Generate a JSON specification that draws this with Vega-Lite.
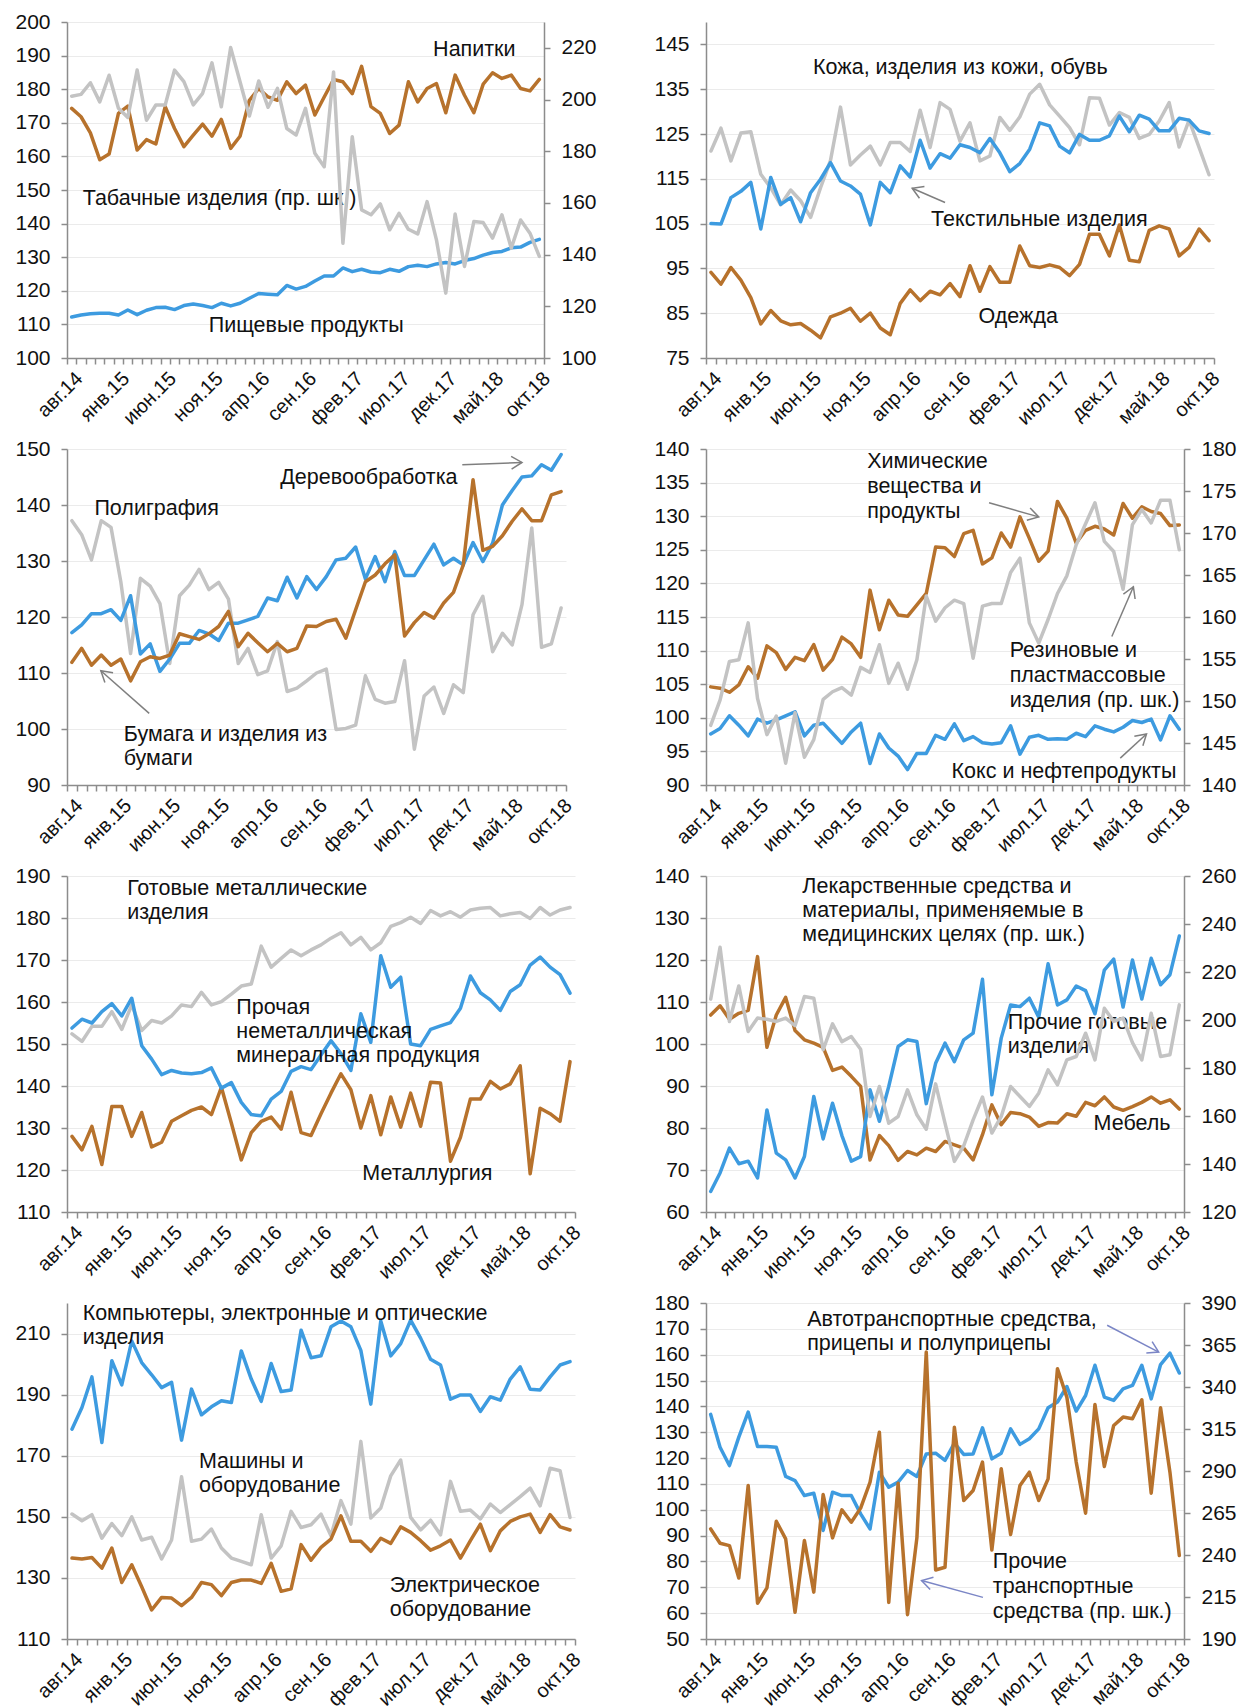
{
"$schema":"https://vega.github.io/schema/vega-lite/v6.json",
"background":"white",
"padding":{"left":14,"top":11,"right":0,"bottom":0},
"data":{"values":[
{"i":0,"m":"авг.14","food":112.2,"bev":174.3,"tob":201.3,"tex":105,"clo":94.1,"lea":121.2,"wood":117.2,"paper":111.9,"print":137.2,"chem":104.6,"coke":97.6,"rub":147.1,"metal":152.4,"nonmet":153.8,"met":128,"pharm":208.7,"othf":64.9,"furn":106.9,"comp":178.7,"mach":150.9,"elec":136.5,"auto":136.9,"othtr":255.5},
{"i":1,"m":"сен.14","food":112.8,"bev":171.8,"tob":202,"tex":104.9,"clo":91.5,"lea":126.3,"wood":118.6,"paper":114.4,"print":134.7,"chem":104.4,"coke":98.4,"rub":150.1,"metal":150.6,"nonmet":155.9,"met":124.8,"pharm":230.3,"othf":69.3,"furn":109.1,"comp":185.8,"mach":148.7,"elec":136.2,"auto":124.2,"othtr":247},
{"i":2,"m":"окт.14","food":113.2,"bev":167,"tob":206.5,"tex":110.8,"clo":95.2,"lea":119,"wood":120.6,"paper":111.4,"print":130.2,"chem":103.8,"coke":100.3,"rub":154.7,"metal":154.2,"nonmet":155,"met":130.4,"pharm":199.4,"othf":75.2,"furn":105.9,"comp":195.8,"mach":150.7,"elec":136.7,"auto":117.1,"othtr":245.6},
{"i":3,"m":"ноя.14","food":113.3,"bev":159,"tob":199.1,"tex":112.2,"clo":92.4,"lea":125.2,"wood":120.6,"paper":113.2,"print":137.2,"chem":104.9,"coke":98.9,"rub":154.9,"metal":154.2,"nonmet":157.7,"met":121.3,"pharm":214.2,"othf":71.5,"furn":107.3,"comp":174.3,"mach":143,"elec":133.2,"auto":128.1,"othtr":226.3},
{"i":4,"m":"дек.14","food":113.3,"bev":160.7,"tob":209.4,"tex":114.2,"clo":88.5,"lea":125.5,"wood":121.3,"paper":111.4,"print":136,"chem":107.6,"coke":97.3,"rub":159.3,"metal":157.7,"nonmet":159.6,"met":135.1,"pharm":195.2,"othf":72.1,"furn":108,"comp":201.1,"mach":147.8,"elec":139.8,"auto":137.8,"othtr":281.4},
{"i":5,"m":"янв.15","food":112.8,"bev":172.8,"tob":196.6,"tex":103.8,"clo":82.6,"lea":116,"wood":119.4,"paper":112.5,"print":126.3,"chem":105.9,"coke":99.8,"rub":150.3,"metal":153.5,"nonmet":156.7,"met":135.1,"pharm":200.8,"othf":68.1,"furn":120.8,"comp":193.2,"mach":143.8,"elec":128.5,"auto":124.5,"othtr":211.3},
{"i":6,"m":"фев.15","food":114.3,"bev":175,"tob":193.1,"tex":115.3,"clo":85.6,"lea":113,"wood":123.8,"paper":108.6,"print":113.5,"chem":110.7,"coke":99.2,"rub":146,"metal":159.3,"nonmet":160.9,"met":128,"pharm":200.3,"othf":84.3,"furn":99.2,"comp":207.6,"mach":150,"elec":134.3,"auto":124.5,"othtr":220.4},
{"i":7,"m":"мар.15","food":112.9,"bev":161.9,"tob":211.4,"tex":109.3,"clo":83.3,"lea":109.2,"wood":113.4,"paper":112,"print":126.9,"chem":109.7,"coke":99.7,"rub":148.2,"metal":153.2,"nonmet":149.6,"met":133.7,"pharm":199.4,"othf":74,"furn":106.9,"comp":200.5,"mach":142.4,"elec":127.1,"auto":124.2,"othtr":260.1},
{"i":8,"m":"апр.15","food":114.2,"bev":165,"tob":192,"tex":110.8,"clo":82.4,"lea":112.5,"wood":115.2,"paper":112.9,"print":125.5,"chem":107.2,"coke":100.3,"rub":142.6,"metal":155.6,"nonmet":146.4,"met":125.5,"pharm":200.8,"othf":72.4,"furn":111.1,"comp":196.5,"mach":143.3,"elec":119.5,"auto":112.9,"othtr":249.6},
{"i":9,"m":"май.15","food":115,"bev":163.7,"tob":197.9,"tex":105.4,"clo":82.7,"lea":110.1,"wood":110.3,"paper":112.6,"print":122.4,"chem":109,"coke":100.9,"rub":148.6,"metal":155,"nonmet":142.7,"met":126.6,"pharm":197.6,"othf":68.1,"furn":103.2,"comp":192.3,"mach":136.2,"elec":123.6,"auto":111.3,"othtr":205.9},
{"i":10,"m":"июн.15","food":115.1,"bev":174.8,"tob":197.9,"tex":111.9,"clo":81.2,"lea":106.4,"wood":112.5,"paper":113.2,"print":111.7,"chem":108.5,"coke":97.3,"rub":143.3,"metal":156.7,"nonmet":143.7,"met":131.6,"pharm":209.8,"othf":73.2,"furn":101,"comp":194,"mach":142.4,"elec":123.4,"auto":105.5,"othtr":248.6},
{"i":11,"m":"июл.15","food":114.4,"bev":168.3,"tob":211.4,"tex":114.9,"clo":79.5,"lea":113,"wood":115.3,"paper":117,"print":123.8,"chem":110.9,"coke":98.9,"rub":145.4,"metal":159.3,"nonmet":143.1,"met":132.9,"pharm":209.1,"othf":87.5,"furn":100.2,"comp":175.1,"mach":163.1,"elec":120.9,"auto":106.4,"othtr":217.9},
{"i":12,"m":"авг.15","food":115.6,"bev":162.9,"tob":206.9,"tex":118.6,"clo":84.2,"lea":119.1,"wood":115.3,"paper":116.5,"print":125.7,"chem":107.1,"coke":99.2,"rub":150.2,"metal":158.9,"nonmet":142.9,"met":134.2,"pharm":187.6,"othf":77.4,"furn":99.2,"comp":191.8,"mach":142,"elec":123.6,"auto":92,"othtr":276},
{"i":13,"m":"сен.15","food":116.1,"bev":166.3,"tob":197.9,"tex":114.5,"clo":85,"lea":131,"wood":117.6,"paper":116,"print":128.5,"chem":108.7,"coke":97.7,"rub":151.1,"metal":162.3,"nonmet":143.2,"met":135,"pharm":198.4,"othf":85.9,"furn":93.7,"comp":183.4,"mach":142.7,"elec":128.5,"auto":106.8,"othtr":250.2},
{"i":14,"m":"окт.15","food":115.6,"bev":169.6,"tob":202.4,"tex":113.4,"clo":86.1,"lea":118.1,"wood":117,"paper":117,"print":124.9,"chem":112,"coke":96.2,"rub":151.6,"metal":159.3,"nonmet":144.3,"met":133.2,"pharm":191,"othf":78.2,"furn":94.5,"comp":186,"mach":146,"elec":127.8,"auto":105.5,"othtr":266.9},
{"i":15,"m":"ноя.15","food":115,"bev":166,"tob":214.2,"tex":111.6,"clo":83.2,"lea":120.3,"wood":115.8,"paper":118.3,"print":126.2,"chem":111,"coke":97.9,"rub":150.7,"metal":160.1,"nonmet":139.5,"met":139.7,"pharm":193.1,"othf":72.1,"furn":92.3,"comp":188,"mach":139.8,"elec":124.2,"auto":105.5,"othtr":259.5},
{"i":16,"m":"дек.15","food":116.3,"bev":171,"tob":197.2,"tex":104.7,"clo":85,"lea":122.3,"wood":118.9,"paper":121,"print":123.2,"chem":109,"coke":99.2,"rub":154,"metal":161.9,"nonmet":140.8,"met":131.2,"pharm":187.8,"othf":73.2,"furn":89.9,"comp":187.4,"mach":136.5,"elec":128.5,"auto":98.4,"othtr":267.9},
{"i":17,"m":"янв.16","food":115.5,"bev":162.4,"tob":220.1,"tex":114.2,"clo":81.7,"lea":118.1,"wood":118.9,"paper":114.7,"print":111.7,"chem":119,"coke":93.2,"rub":153.4,"metal":163.8,"nonmet":136.1,"met":122.4,"pharm":159.8,"othf":89.1,"furn":72.4,"comp":204.3,"mach":135.4,"elec":129.3,"auto":92.6,"othtr":283.3},
{"i":18,"m":"фев.16","food":116.3,"bev":166,"tob":206.9,"tex":111.9,"clo":80.2,"lea":123.1,"wood":119.5,"paper":117.1,"print":114.4,"chem":113.1,"coke":97.6,"rub":156.7,"metal":164.3,"nonmet":133.2,"met":128.9,"pharm":172.3,"othf":81.6,"furn":78.2,"comp":195.1,"mach":134.3,"elec":129.3,"auto":114.5,"othtr":313.1},
{"i":19,"m":"мар.16","food":117.8,"bev":176.7,"tob":193.6,"tex":117.9,"clo":87.2,"lea":123.1,"wood":120.1,"paper":115.4,"print":109.7,"chem":117.5,"coke":95.5,"rub":152.1,"metal":173.3,"nonmet":132.9,"met":131.6,"pharm":157,"othf":89.9,"furn":75.8,"comp":187.8,"mach":150.7,"elec":128.2,"auto":108.7,"othtr":211.8},
{"i":20,"m":"апр.16","food":119.2,"bev":180.2,"tob":207.2,"tex":115.4,"clo":90.2,"lea":121.1,"wood":123.4,"paper":113.8,"print":110.4,"chem":115.3,"coke":94.3,"rub":154.5,"metal":168.3,"nonmet":136.9,"met":132.6,"pharm":159.8,"othf":99.4,"furn":72.3,"comp":200.2,"mach":136.5,"elec":134.8,"auto":110.7,"othtr":282.7},
{"i":21,"m":"май.16","food":119,"bev":177.7,"tob":197,"tex":123.6,"clo":87.8,"lea":130.3,"wood":122.9,"paper":115.3,"print":115.6,"chem":115.1,"coke":92.3,"rub":151.4,"metal":170.4,"nonmet":138.7,"met":129.7,"pharm":170.9,"othf":101,"furn":74.4,"comp":191,"mach":140.5,"elec":125.6,"auto":115.2,"othtr":204.5},
{"i":22,"m":"июн.16","food":118.8,"bev":176.7,"tob":204.3,"tex":117.4,"clo":89.9,"lea":122,"wood":127.1,"paper":113.8,"print":106.7,"chem":116.8,"coke":94.7,"rub":154.9,"metal":172.4,"nonmet":143.5,"met":138.5,"pharm":160.5,"othf":100.6,"furn":73.6,"comp":191.5,"mach":151.8,"elec":126.4,"auto":112.9,"othtr":250.2},
{"i":23,"m":"июл.16","food":121.6,"bev":182.2,"tob":188.8,"tex":120.6,"clo":89.1,"lea":132,"wood":123.4,"paper":114.4,"print":107.3,"chem":118.5,"coke":94.7,"rub":162.5,"metal":171,"nonmet":144.6,"met":128.9,"pharm":154.5,"othf":85.8,"furn":75.2,"comp":211.1,"mach":146.5,"elec":140.9,"auto":121.6,"othtr":360.8},
{"i":24,"m":"авг.16","food":120.5,"bev":178.7,"tob":186.3,"tex":119.6,"clo":91.6,"lea":130.5,"wood":127.2,"paper":118.4,"print":108.6,"chem":125.4,"coke":97.4,"rub":159.5,"metal":172.4,"nonmet":143.9,"met":128.2,"pharm":173.4,"othf":95.4,"furn":74.4,"comp":202.1,"mach":147.4,"elec":135.8,"auto":121.9,"othtr":231.1},
{"i":25,"m":"сен.16","food":121.3,"bev":181.2,"tob":196.6,"tex":122.6,"clo":88.7,"lea":123.4,"wood":124.9,"paper":118.3,"print":110,"chem":125.3,"coke":96.8,"rub":161.1,"metal":173.6,"nonmet":147.4,"met":133.4,"pharm":157,"othf":100.2,"furn":76.8,"comp":202.7,"mach":150.9,"elec":140,"auto":119.1,"othtr":232.7},
{"i":26,"m":"окт.16","food":122.9,"bev":172.3,"tob":179.2,"tex":122,"clo":95.6,"lea":127.5,"wood":127.2,"paper":119.2,"print":110.7,"chem":124,"coke":99.1,"rub":162,"metal":175.2,"nonmet":150.8,"met":138.3,"pharm":141.1,"othf":95.8,"furn":76,"comp":212.2,"mach":143.8,"elec":142.7,"auto":125.8,"othtr":316.1},
{"i":27,"m":"ноя.16","food":124.4,"bev":177.7,"tob":174,"tex":120.8,"clo":89.9,"lea":119,"wood":130.2,"paper":119.6,"print":99.9,"chem":127.4,"coke":96.6,"rub":161.6,"metal":176.5,"nonmet":147.7,"met":142.9,"pharm":147.6,"othf":101,"furn":75.2,"comp":214.1,"mach":155.3,"elec":150.3,"auto":121.4,"othtr":272.4},
{"i":28,"m":"дек.16","food":124.4,"bev":182.9,"tob":210.7,"tex":124,"clo":95.4,"lea":120.1,"wood":130.5,"paper":116.2,"print":100.1,"chem":127.9,"coke":97.2,"rub":155.1,"metal":173.6,"nonmet":143.7,"met":139.1,"pharm":158.4,"othf":102.6,"furn":72.4,"comp":212.2,"mach":147.6,"elec":142,"auto":121.6,"othtr":278.4},
{"i":29,"m":"янв.17","food":126.8,"bev":182.2,"tob":144.4,"tex":120.8,"clo":91.9,"lea":128.7,"wood":132.5,"paper":121.3,"print":100.7,"chem":122.9,"coke":96.3,"rub":161.3,"metal":175.4,"nonmet":157.2,"met":130,"pharm":167.9,"othf":115.4,"furn":78.4,"comp":204.5,"mach":174.7,"elec":142,"auto":131.7,"othtr":295.3},
{"i":30,"m":"фев.17","food":125.7,"bev":178.7,"tob":185.6,"tex":116.6,"clo":91.9,"lea":125.8,"wood":126.8,"paper":126.3,"print":109.5,"chem":123.8,"coke":96.1,"rub":161.6,"metal":172.4,"nonmet":150.4,"met":137.7,"pharm":152.9,"othf":87.9,"furn":85.5,"comp":186.9,"mach":149.6,"elec":138.7,"auto":119.7,"othtr":243},
{"i":31,"m":"мар.17","food":126.4,"bev":186.8,"tob":157.3,"tex":118.4,"clo":100,"lea":128.8,"wood":130.8,"paper":127.5,"print":105.3,"chem":127.5,"coke":96.3,"rub":161.6,"metal":174.1,"nonmet":171,"met":128.4,"pharm":159.8,"othf":101.4,"furn":80.8,"comp":214.1,"mach":152.9,"elec":143,"auto":121.9,"othtr":291.3},
{"i":32,"m":"апр.17","food":125.6,"bev":174.8,"tob":155.4,"tex":121.6,"clo":95.6,"lea":133.9,"wood":126.3,"paper":129.5,"print":104.6,"chem":125.4,"coke":98.8,"rub":165.3,"metal":178,"nonmet":163.5,"met":137.4,"pharm":172.3,"othf":109.3,"furn":83.7,"comp":202.7,"mach":163.4,"elec":141.3,"auto":131.3,"othtr":252.2},
{"i":33,"m":"май.17","food":125.4,"bev":172.8,"tob":159.6,"tex":127.5,"clo":95.2,"lea":136.1,"wood":131.7,"paper":131.1,"print":104.9,"chem":129.9,"coke":94.6,"rub":167,"metal":178.9,"nonmet":165.9,"met":130.2,"pharm":168.1,"othf":108.9,"furn":83.4,"comp":206.7,"mach":168.6,"elec":146.7,"auto":125.3,"othtr":281.4},
{"i":34,"m":"июн.17","food":126.4,"bev":166.8,"tob":149.6,"tex":126.8,"clo":95.8,"lea":131.5,"wood":127.4,"paper":116.6,"print":112.2,"chem":126.7,"coke":97.1,"rub":159.3,"metal":180.2,"nonmet":150,"met":138.3,"pharm":164,"othf":110.9,"furn":82.6,"comp":214.4,"mach":149.8,"elec":144.9,"auto":127.5,"othtr":289.3},
{"i":35,"m":"июл.17","food":125.8,"bev":169.3,"tob":156,"tex":122.3,"clo":95.2,"lea":129,"wood":127.4,"paper":119,"print":96.4,"chem":123.3,"coke":97.4,"rub":156.9,"metal":178.7,"nonmet":149.6,"met":130.4,"pharm":169.5,"othf":106.4,"furn":80.4,"comp":208.5,"mach":145.7,"elec":142.2,"auto":131.3,"othtr":272.4},
{"i":36,"m":"авг.17","food":127.2,"bev":182.2,"tob":149.8,"tex":120.8,"clo":93.4,"lea":126.4,"wood":130.2,"paper":120.8,"print":105.9,"chem":124.8,"coke":96.8,"rub":159.7,"metal":181.8,"nonmet":153.5,"met":140.9,"pharm":179.2,"othf":119.1,"furn":81.3,"comp":201.6,"mach":148.9,"elec":139.1,"auto":139.5,"othtr":285.3},
{"i":37,"m":"сен.17","food":127.6,"bev":176.2,"tob":148,"tex":124.9,"clo":95.9,"lea":122.6,"wood":133,"paper":119.8,"print":107.5,"chem":132.2,"coke":96.9,"rub":162.8,"metal":180.5,"nonmet":154.3,"met":140.7,"pharm":173,"othf":109.3,"furn":81.2,"comp":199.7,"mach":144.1,"elec":140.5,"auto":141.7,"othtr":350.9},
{"i":38,"m":"окт.17","food":127.2,"bev":180.2,"tob":160.5,"tex":123.6,"clo":102.6,"lea":133.1,"wood":129.3,"paper":122.5,"print":102.8,"chem":129.7,"coke":96.8,"rub":164.9,"metal":181.5,"nonmet":155.1,"met":122.1,"pharm":183.4,"othf":110.5,"furn":83.4,"comp":188.5,"mach":161.6,"elec":142.4,"auto":147.7,"othtr":334},
{"i":39,"m":"ноя.17","food":128,"bev":181.7,"tob":145.7,"tex":123.6,"clo":102.6,"lea":133,"wood":130.5,"paper":124.4,"print":107.9,"chem":126,"coke":97.7,"rub":168.6,"metal":180.2,"nonmet":158.5,"met":127.8,"pharm":184.8,"othf":113.8,"furn":82.8,"comp":189.9,"mach":151.8,"elec":136.5,"auto":138.2,"othtr":295.3},
{"i":40,"m":"дек.17","food":128.4,"bev":173,"tob":125.1,"tex":124.6,"clo":97.8,"lea":127,"wood":129.3,"paper":129.3,"print":106.5,"chem":127.9,"coke":97.2,"rub":171.1,"metal":181.9,"nonmet":166.2,"met":136.9,"pharm":194.5,"othf":112.7,"furn":86.1,"comp":189.9,"mach":152.2,"elec":142.2,"auto":144.2,"othtr":264.9},
{"i":41,"m":"янв.18","food":128,"bev":184.2,"tob":155.7,"tex":129,"clo":104.7,"lea":129.8,"wood":133.3,"paper":144.5,"print":120.4,"chem":128.5,"coke":98.8,"rub":173.6,"metal":182.3,"nonmet":162.2,"met":136.9,"pharm":183.4,"othf":107.2,"furn":85.3,"comp":184.5,"mach":149.3,"elec":147.6,"auto":155.9,"othtr":329.6},
{"i":42,"m":"фев.18","food":129,"bev":178.2,"tob":135.4,"tex":125.5,"clo":96.8,"lea":128.7,"wood":129.9,"paper":131.9,"print":123.7,"chem":128.1,"coke":98.3,"rub":169,"metal":182.5,"nonmet":160.5,"met":141.1,"pharm":204.9,"othf":117.6,"furn":87.4,"comp":189.3,"mach":154.2,"elec":138.9,"auto":143.6,"othtr":292.7},
{"i":43,"m":"мар.18","food":129.6,"bev":173,"tob":152.8,"tex":129.2,"clo":96.5,"lea":124,"wood":133.2,"paper":132.6,"print":113.8,"chem":127.2,"coke":97.9,"rub":167.8,"metal":180.5,"nonmet":158,"met":139.3,"pharm":199.4,"othf":120.2,"furn":85,"comp":188.2,"mach":151.4,"elec":145.4,"auto":142.3,"othtr":317.1},
{"i":44,"m":"апр.18","food":130.6,"bev":181.5,"tob":152.4,"tex":128.3,"clo":103.5,"lea":124.9,"wood":140,"paper":134.5,"print":117.1,"chem":131.9,"coke":98.6,"rub":163.3,"metal":181,"nonmet":162.5,"met":140.5,"pharm":200.8,"othf":108.8,"furn":84.2,"comp":195.1,"mach":154,"elec":148.5,"auto":146.8,"othtr":322.1},
{"i":45,"m":"май.18","food":131.4,"bev":184.9,"tob":146.4,"tex":125.7,"clo":104.5,"lea":127.9,"wood":142.6,"paper":137.1,"print":115,"chem":129.7,"coke":99.6,"rub":171,"metal":181.3,"nonmet":164.1,"met":144.8,"pharm":190.6,"othf":120,"furn":85.1,"comp":199.1,"mach":156.6,"elec":150,"auto":148.1,"othtr":321.1},
{"i":46,"m":"июн.18","food":131.7,"bev":183.2,"tob":155.4,"tex":125.7,"clo":103.8,"lea":132,"wood":145,"paper":139.3,"print":122.2,"chem":131.4,"coke":99.3,"rub":172.8,"metal":179.9,"nonmet":168.8,"met":119.1,"pharm":183.4,"othf":110.7,"furn":86.1,"comp":191.8,"mach":159.4,"elec":150.9,"auto":155.9,"othtr":332.4},
{"i":47,"m":"июл.18","food":132.8,"bev":184.2,"tob":142.5,"tex":128.5,"clo":97.8,"lea":122.1,"wood":145.2,"paper":137.2,"print":135.9,"chem":130.7,"coke":99.8,"rub":171.2,"metal":182.5,"nonmet":170.7,"met":134.7,"pharm":202.8,"othf":120.4,"furn":87.4,"comp":191.5,"mach":153.6,"elec":144.9,"auto":142.9,"othtr":276.8},
{"i":48,"m":"авг.18","food":133,"bev":180.2,"tob":153.4,"tex":128.1,"clo":99.7,"lea":128.1,"wood":147.2,"paper":137.2,"print":114.6,"chem":130.4,"coke":96.7,"rub":173.9,"metal":180.7,"nonmet":168.3,"met":133.4,"pharm":184.8,"othf":114.1,"furn":85.9,"comp":195.8,"mach":165.9,"elec":150.7,"auto":156.2,"othtr":327.6},
{"i":49,"m":"сен.18","food":134.4,"bev":179.5,"tob":148.3,"tex":125.7,"clo":103.8,"lea":122,"wood":146.2,"paper":141.8,"print":115.2,"chem":128.6,"coke":100.3,"rub":173.9,"metal":181.9,"nonmet":166.5,"met":131.6,"pharm":185.5,"othf":116.5,"furn":86.7,"comp":199.7,"mach":165.1,"elec":146.7,"auto":160.6,"othtr":289.3},
{"i":50,"m":"окт.18","food":135.3,"bev":182.9,"tob":139.3,"tex":125.1,"clo":101.2,"lea":115.9,"wood":149,"paper":142.4,"print":121.6,"chem":128.7,"coke":98.3,"rub":168,"metal":182.5,"nonmet":162.1,"met":145.8,"pharm":206.3,"othf":125.7,"furn":84.5,"comp":200.8,"mach":149.8,"elec":145.7,"auto":152.9,"othtr":239.7}
]},
"columns":2,
"spacing":{"row":91,"column":131},
"bounds":"flush",
"align":"each",
"concat":[
{"width":477,"height":336,
 "encoding":{"x":{"field":"i","type":"quantitative","title":null,"scale":{"domain":[-0.5,50.5],"nice":false,"zero":false},"axis":{"tickCount":60,"values":[-0.5,0.5,1.5,2.5,3.5,4.5,5.5,6.5,7.5,8.5,9.5,10.5,11.5,12.5,13.5,14.5,15.5,16.5,17.5,18.5,19.5,20.5,21.5,22.5,23.5,24.5,25.5,26.5,27.5,28.5,29.5,30.5,31.5,32.5,33.5,34.5,35.5,36.5,37.5,38.5,39.5,40.5,41.5,42.5,43.5,44.5,45.5,46.5,47.5,48.5,49.5,50.5],"labelExpr":"(datum.value + 0.5) % 5 == 0 ? ['авг.14','янв.15','июн.15','ноя.15','апр.16','сен.16','фев.17','июл.17','дек.17','май.18','окт.18'][(datum.value + 0.5) / 5] : ''","labelAngle":-45,"labelOffset":5,"labelOverlap":false,"labelFlush":false,"labelBound":false,"grid":false}}},
 "layer":[
  {"layer":[
   {"mark":{"type":"line","color":"#B7722C"},"encoding":{"y":{"field":"bev","type":"quantitative","title":null,"scale":{"domain":[100,200],"nice":false,"zero":false},"axis":{"orient":"left","grid":true,"tickCount":30,"labelOverlap":false,"values":[100,110,120,130,140,150,160,170,180,190,200]}}}},
   {"mark":{"type":"line","color":"#3D9BE0"},"encoding":{"y":{"field":"food","type":"quantitative","title":null}}},
   {"transform":[{"filter":"datum.i == 0"}],"mark":{"type":"text","align":"center","baseline":"middle"},"encoding":{"x":{"datum":43.05,"type":"quantitative","title":null},"y":{"datum":191.6,"type":"quantitative","title":null},"text":{"value":"Напитки"}}},
   {"transform":[{"filter":"datum.i == 0"}],"mark":{"type":"text","align":"left","baseline":"middle"},"encoding":{"x":{"datum":1.18,"type":"quantitative","title":null},"y":{"datum":147.2,"type":"quantitative","title":null},"text":{"value":"Табачные изделия (пр. шк.)"}}},
   {"transform":[{"filter":"datum.i == 0"}],"mark":{"type":"text","align":"left","baseline":"middle"},"encoding":{"x":{"datum":14.65,"type":"quantitative","title":null},"y":{"datum":109.4,"type":"quantitative","title":null},"text":{"value":"Пищевые продукты"}}}
  ]},
  {"mark":{"type":"line","color":"#C3C3C3"},"encoding":{"y":{"field":"tob","type":"quantitative","title":null,"scale":{"domain":[100,230],"nice":false,"zero":false},"axis":{"orient":"right","grid":false,"tickCount":30,"labelOverlap":false,"values":[100,120,140,160,180,200,220]}}}}
 ],
 "resolve":{"scale":{"y":"independent"}}
},
{"width":508,"height":336,
 "encoding":{"x":{"field":"i","type":"quantitative","title":null,"scale":{"domain":[-0.5,50.5],"nice":false,"zero":false},"axis":{"tickCount":60,"values":[-0.5,0.5,1.5,2.5,3.5,4.5,5.5,6.5,7.5,8.5,9.5,10.5,11.5,12.5,13.5,14.5,15.5,16.5,17.5,18.5,19.5,20.5,21.5,22.5,23.5,24.5,25.5,26.5,27.5,28.5,29.5,30.5,31.5,32.5,33.5,34.5,35.5,36.5,37.5,38.5,39.5,40.5,41.5,42.5,43.5,44.5,45.5,46.5,47.5,48.5,49.5,50.5],"labelExpr":"(datum.value + 0.5) % 5 == 0 ? ['авг.14','янв.15','июн.15','ноя.15','апр.16','сен.16','фев.17','июл.17','дек.17','май.18','окт.18'][(datum.value + 0.5) / 5] : ''","labelAngle":-45,"labelOffset":5,"labelOverlap":false,"labelFlush":false,"labelBound":false,"grid":false}}},
 "layer":[
  {"mark":{"type":"line","color":"#C3C3C3"},"encoding":{"y":{"field":"lea","type":"quantitative","title":null,"scale":{"domain":[75,150],"nice":false,"zero":false},"axis":{"orient":"left","grid":true,"tickCount":30,"labelOverlap":false,"values":[75,85,95,105,115,125,135,145]}}}},
  {"mark":{"type":"line","color":"#B7722C"},"encoding":{"y":{"field":"clo","type":"quantitative","title":null}}},
  {"mark":{"type":"line","color":"#3D9BE0"},"encoding":{"y":{"field":"tex","type":"quantitative","title":null}}},
  {"transform":[{"filter":"datum.i == 0"}],"mark":{"type":"text","align":"left","baseline":"middle"},"encoding":{"x":{"datum":10.25,"type":"quantitative","title":null},"y":{"datum":139.8,"type":"quantitative","title":null},"text":{"value":"Кожа, изделия из кожи,  обувь"}}},
  {"transform":[{"filter":"datum.i == 0"}],"mark":{"type":"text","align":"left","baseline":"middle"},"encoding":{"x":{"datum":22.1,"type":"quantitative","title":null},"y":{"datum":105.8,"type":"quantitative","title":null},"text":{"value":"Текстильные изделия"}}},
  {"transform":[{"filter":"datum.i == 0"}],"mark":{"type":"text","align":"left","baseline":"middle"},"encoding":{"x":{"datum":26.86,"type":"quantitative","title":null},"y":{"datum":84.1,"type":"quantitative","title":null},"text":{"value":"Одежда"}}},
  {"transform":[{"filter":"datum.i == 0"}],"mark":{"type":"rule","color":"#7F7F7F","strokeWidth":1.5},"encoding":{"x":{"datum":23.5,"type":"quantitative","title":null},"y":{"datum":109.7,"type":"quantitative","title":null},"x2":{"datum":20.2},"y2":{"datum":112.9}}},
  {"transform":[{"filter":"datum.i == 0"}],"mark":{"type":"point","shape":"M-1,-0.6L0,0L-1,0.6","filled":false,"color":"#7F7F7F","strokeWidth":1.5,"size":450,"angle":203,"opacity":1},"encoding":{"x":{"datum":20.2,"type":"quantitative","title":null},"y":{"datum":112.9,"type":"quantitative","title":null}}}
 ]
},
{"width":499,"height":336,
 "encoding":{"x":{"field":"i","type":"quantitative","title":null,"scale":{"domain":[-0.5,50.5],"nice":false,"zero":false},"axis":{"tickCount":60,"values":[-0.5,0.5,1.5,2.5,3.5,4.5,5.5,6.5,7.5,8.5,9.5,10.5,11.5,12.5,13.5,14.5,15.5,16.5,17.5,18.5,19.5,20.5,21.5,22.5,23.5,24.5,25.5,26.5,27.5,28.5,29.5,30.5,31.5,32.5,33.5,34.5,35.5,36.5,37.5,38.5,39.5,40.5,41.5,42.5,43.5,44.5,45.5,46.5,47.5,48.5,49.5,50.5],"labelExpr":"(datum.value + 0.5) % 5 == 0 ? ['авг.14','янв.15','июн.15','ноя.15','апр.16','сен.16','фев.17','июл.17','дек.17','май.18','окт.18'][(datum.value + 0.5) / 5] : ''","labelAngle":-45,"labelOffset":5,"labelOverlap":false,"labelFlush":false,"labelBound":false,"grid":false}}},
 "layer":[
  {"mark":{"type":"line","color":"#C3C3C3"},"encoding":{"y":{"field":"print","type":"quantitative","title":null,"scale":{"domain":[90,150],"nice":false,"zero":false},"axis":{"orient":"left","grid":true,"tickCount":30,"labelOverlap":false,"values":[90,100,110,120,130,140,150]}}}},
  {"mark":{"type":"line","color":"#3D9BE0"},"encoding":{"y":{"field":"wood","type":"quantitative","title":null}}},
  {"mark":{"type":"line","color":"#B7722C"},"encoding":{"y":{"field":"paper","type":"quantitative","title":null}}},
  {"transform":[{"filter":"datum.i == 0"}],"mark":{"type":"text","align":"left","baseline":"middle"},"encoding":{"x":{"datum":21.3,"type":"quantitative","title":null},"y":{"datum":144.9,"type":"quantitative","title":null},"text":{"value":"Деревообработка"}}},
  {"transform":[{"filter":"datum.i == 0"}],"mark":{"type":"text","align":"left","baseline":"middle"},"encoding":{"x":{"datum":2.3,"type":"quantitative","title":null},"y":{"datum":139.2,"type":"quantitative","title":null},"text":{"value":"Полиграфия"}}},
  {"transform":[{"filter":"datum.i == 0"}],"mark":{"type":"text","align":"left","baseline":"middle","lineHeight":24},"encoding":{"x":{"datum":5.3,"type":"quantitative","title":null},"y":{"datum":98.9,"type":"quantitative","title":null},"text":{"value":["Бумага и изделия из","бумаги"]}}},
  {"transform":[{"filter":"datum.i == 0"}],"mark":{"type":"rule","color":"#7F7F7F","strokeWidth":1.5},"encoding":{"x":{"datum":39.9,"type":"quantitative","title":null},"y":{"datum":147.2,"type":"quantitative","title":null},"x2":{"datum":46.0},"y2":{"datum":147.6}}},
  {"transform":[{"filter":"datum.i == 0"}],"mark":{"type":"point","shape":"M-1,-0.6L0,0L-1,0.6","filled":false,"color":"#7F7F7F","strokeWidth":1.5,"size":450,"angle":358,"opacity":1},"encoding":{"x":{"datum":46.0,"type":"quantitative","title":null},"y":{"datum":147.6,"type":"quantitative","title":null}}},
  {"transform":[{"filter":"datum.i == 0"}],"mark":{"type":"rule","color":"#7F7F7F","strokeWidth":1.5},"encoding":{"x":{"datum":7.9,"type":"quantitative","title":null},"y":{"datum":102.8,"type":"quantitative","title":null},"x2":{"datum":2.96},"y2":{"datum":110.4}}},
  {"transform":[{"filter":"datum.i == 0"}],"mark":{"type":"point","shape":"M-1,-0.6L0,0L-1,0.6","filled":false,"color":"#7F7F7F","strokeWidth":1.5,"size":450,"angle":220,"opacity":1},"encoding":{"x":{"datum":2.96,"type":"quantitative","title":null},"y":{"datum":110.4,"type":"quantitative","title":null}}}
 ]
},
{"width":478,"height":336,
 "encoding":{"x":{"field":"i","type":"quantitative","title":null,"scale":{"domain":[-0.5,50.5],"nice":false,"zero":false},"axis":{"tickCount":60,"values":[-0.5,0.5,1.5,2.5,3.5,4.5,5.5,6.5,7.5,8.5,9.5,10.5,11.5,12.5,13.5,14.5,15.5,16.5,17.5,18.5,19.5,20.5,21.5,22.5,23.5,24.5,25.5,26.5,27.5,28.5,29.5,30.5,31.5,32.5,33.5,34.5,35.5,36.5,37.5,38.5,39.5,40.5,41.5,42.5,43.5,44.5,45.5,46.5,47.5,48.5,49.5,50.5],"labelExpr":"(datum.value + 0.5) % 5 == 0 ? ['авг.14','янв.15','июн.15','ноя.15','апр.16','сен.16','фев.17','июл.17','дек.17','май.18','окт.18'][(datum.value + 0.5) / 5] : ''","labelAngle":-45,"labelOffset":5,"labelOverlap":false,"labelFlush":false,"labelBound":false,"grid":false}}},
 "layer":[
  {"layer":[
   {"mark":{"type":"line","color":"#B7722C"},"encoding":{"y":{"field":"chem","type":"quantitative","title":null,"scale":{"domain":[90,140],"nice":false,"zero":false},"axis":{"orient":"left","grid":true,"tickCount":30,"labelOverlap":false,"values":[90,95,100,105,110,115,120,125,130,135,140]}}}},
   {"mark":{"type":"line","color":"#3D9BE0"},"encoding":{"y":{"field":"coke","type":"quantitative","title":null}}},
   {"transform":[{"filter":"datum.i == 0"}],"mark":{"type":"text","align":"left","baseline":"middle","lineHeight":25},"encoding":{"x":{"datum":16.7,"type":"quantitative","title":null},"y":{"datum":138.1,"type":"quantitative","title":null},"text":{"value":["Химические","вещества и","продукты"]}}},
   {"transform":[{"filter":"datum.i == 0"}],"mark":{"type":"text","align":"left","baseline":"middle","lineHeight":25},"encoding":{"x":{"datum":31.9,"type":"quantitative","title":null},"y":{"datum":109.9,"type":"quantitative","title":null},"text":{"value":["Резиновые и","пластмассовые","изделия (пр. шк.)"]}}},
   {"transform":[{"filter":"datum.i == 0"}],"mark":{"type":"text","align":"left","baseline":"middle"},"encoding":{"x":{"datum":25.7,"type":"quantitative","title":null},"y":{"datum":92,"type":"quantitative","title":null},"text":{"value":"Кокс и нефтепродукты"}}},
   {"transform":[{"filter":"datum.i == 0"}],"mark":{"type":"rule","color":"#7F7F7F","strokeWidth":1.5},"encoding":{"x":{"datum":29.7,"type":"quantitative","title":null},"y":{"datum":132,"type":"quantitative","title":null},"x2":{"datum":35},"y2":{"datum":129.9}}},
   {"transform":[{"filter":"datum.i == 0"}],"mark":{"type":"point","shape":"M-1,-0.6L0,0L-1,0.6","filled":false,"color":"#7F7F7F","strokeWidth":1.5,"size":450,"angle":15,"opacity":1},"encoding":{"x":{"datum":35,"type":"quantitative","title":null},"y":{"datum":129.9,"type":"quantitative","title":null}}},
   {"transform":[{"filter":"datum.i == 0"}],"mark":{"type":"rule","color":"#7F7F7F","strokeWidth":1.5},"encoding":{"x":{"datum":42.8,"type":"quantitative","title":null},"y":{"datum":112.1,"type":"quantitative","title":null},"x2":{"datum":45.1},"y2":{"datum":119.5}}},
   {"transform":[{"filter":"datum.i == 0"}],"mark":{"type":"point","shape":"M-1,-0.6L0,0L-1,0.6","filled":false,"color":"#7F7F7F","strokeWidth":1.5,"size":450,"angle":293,"opacity":1},"encoding":{"x":{"datum":45.1,"type":"quantitative","title":null},"y":{"datum":119.5,"type":"quantitative","title":null}}},
   {"transform":[{"filter":"datum.i == 0"}],"mark":{"type":"rule","color":"#7F7F7F","strokeWidth":1.5},"encoding":{"x":{"datum":43.7,"type":"quantitative","title":null},"y":{"datum":94,"type":"quantitative","title":null},"x2":{"datum":46.5},"y2":{"datum":97.6}}},
   {"transform":[{"filter":"datum.i == 0"}],"mark":{"type":"point","shape":"M-1,-0.6L0,0L-1,0.6","filled":false,"color":"#7F7F7F","strokeWidth":1.5,"size":450,"angle":318,"opacity":1},"encoding":{"x":{"datum":46.5,"type":"quantitative","title":null},"y":{"datum":97.6,"type":"quantitative","title":null}}}
  ]},
  {"mark":{"type":"line","color":"#C3C3C3"},"encoding":{"y":{"field":"rub","type":"quantitative","title":null,"scale":{"domain":[140,180],"nice":false,"zero":false},"axis":{"orient":"right","grid":false,"tickCount":30,"labelOverlap":false,"values":[140,145,150,155,160,165,170,175,180]}}}}
 ],
 "resolve":{"scale":{"y":"independent"}}
},
{"width":508,"height":336,
 "encoding":{"x":{"field":"i","type":"quantitative","title":null,"scale":{"domain":[-0.5,50.5],"nice":false,"zero":false},"axis":{"tickCount":60,"values":[-0.5,0.5,1.5,2.5,3.5,4.5,5.5,6.5,7.5,8.5,9.5,10.5,11.5,12.5,13.5,14.5,15.5,16.5,17.5,18.5,19.5,20.5,21.5,22.5,23.5,24.5,25.5,26.5,27.5,28.5,29.5,30.5,31.5,32.5,33.5,34.5,35.5,36.5,37.5,38.5,39.5,40.5,41.5,42.5,43.5,44.5,45.5,46.5,47.5,48.5,49.5,50.5],"labelExpr":"(datum.value + 0.5) % 5 == 0 ? ['авг.14','янв.15','июн.15','ноя.15','апр.16','сен.16','фев.17','июл.17','дек.17','май.18','окт.18'][(datum.value + 0.5) / 5] : ''","labelAngle":-45,"labelOffset":5,"labelOverlap":false,"labelFlush":false,"labelBound":false,"grid":false}}},
 "layer":[
  {"mark":{"type":"line","color":"#C3C3C3"},"encoding":{"y":{"field":"metal","type":"quantitative","title":null,"scale":{"domain":[110,190],"nice":false,"zero":false},"axis":{"orient":"left","grid":true,"tickCount":30,"labelOverlap":false,"values":[110,120,130,140,150,160,170,180,190]}}}},
  {"mark":{"type":"line","color":"#B7722C"},"encoding":{"y":{"field":"met","type":"quantitative","title":null}}},
  {"mark":{"type":"line","color":"#3D9BE0"},"encoding":{"y":{"field":"nonmet","type":"quantitative","title":null}}},
  {"transform":[{"filter":"datum.i == 0"}],"mark":{"type":"text","align":"left","baseline":"middle","lineHeight":24},"encoding":{"x":{"datum":5.54,"type":"quantitative","title":null},"y":{"datum":186.8,"type":"quantitative","title":null},"text":{"value":["Готовые металлические","изделия"]}}},
  {"transform":[{"filter":"datum.i == 0"}],"mark":{"type":"text","align":"left","baseline":"middle","lineHeight":24},"encoding":{"x":{"datum":16.5,"type":"quantitative","title":null},"y":{"datum":158.5,"type":"quantitative","title":null},"text":{"value":["Прочая","неметаллическая","минеральная продукция"]}}},
  {"transform":[{"filter":"datum.i == 0"}],"mark":{"type":"text","align":"left","baseline":"middle"},"encoding":{"x":{"datum":29.15,"type":"quantitative","title":null},"y":{"datum":119.1,"type":"quantitative","title":null},"text":{"value":"Металлургия"}}}
 ]
},
{"width":478,"height":336,
 "encoding":{"x":{"field":"i","type":"quantitative","title":null,"scale":{"domain":[-0.5,50.5],"nice":false,"zero":false},"axis":{"tickCount":60,"values":[-0.5,0.5,1.5,2.5,3.5,4.5,5.5,6.5,7.5,8.5,9.5,10.5,11.5,12.5,13.5,14.5,15.5,16.5,17.5,18.5,19.5,20.5,21.5,22.5,23.5,24.5,25.5,26.5,27.5,28.5,29.5,30.5,31.5,32.5,33.5,34.5,35.5,36.5,37.5,38.5,39.5,40.5,41.5,42.5,43.5,44.5,45.5,46.5,47.5,48.5,49.5,50.5],"labelExpr":"(datum.value + 0.5) % 5 == 0 ? ['авг.14','янв.15','июн.15','ноя.15','апр.16','сен.16','фев.17','июл.17','дек.17','май.18','окт.18'][(datum.value + 0.5) / 5] : ''","labelAngle":-45,"labelOffset":5,"labelOverlap":false,"labelFlush":false,"labelBound":false,"grid":false}}},
 "layer":[
  {"layer":[
   {"mark":{"type":"line","color":"#B7722C"},"encoding":{"y":{"field":"furn","type":"quantitative","title":null,"scale":{"domain":[60,140],"nice":false,"zero":false},"axis":{"orient":"left","grid":true,"tickCount":30,"labelOverlap":false,"values":[60,70,80,90,100,110,120,130,140]}}}},
   {"mark":{"type":"line","color":"#3D9BE0"},"encoding":{"y":{"field":"othf","type":"quantitative","title":null}}},
   {"transform":[{"filter":"datum.i == 0"}],"mark":{"type":"text","align":"left","baseline":"middle","lineHeight":24},"encoding":{"x":{"datum":9.78,"type":"quantitative","title":null},"y":{"datum":137.3,"type":"quantitative","title":null},"text":{"value":["Лекарственные средства и","материалы, применяемые в","медицинских целях (пр. шк.)"]}}},
   {"transform":[{"filter":"datum.i == 0"}],"mark":{"type":"text","align":"left","baseline":"middle","lineHeight":24},"encoding":{"x":{"datum":31.7,"type":"quantitative","title":null},"y":{"datum":105.1,"type":"quantitative","title":null},"text":{"value":["Прочие готовые","изделия"]}}},
   {"transform":[{"filter":"datum.i == 0"}],"mark":{"type":"text","align":"left","baseline":"middle"},"encoding":{"x":{"datum":40.85,"type":"quantitative","title":null},"y":{"datum":81,"type":"quantitative","title":null},"text":{"value":"Мебель"}}}
  ]},
  {"mark":{"type":"line","color":"#C3C3C3"},"encoding":{"y":{"field":"pharm","type":"quantitative","title":null,"scale":{"domain":[120,260],"nice":false,"zero":false},"axis":{"orient":"right","grid":false,"tickCount":30,"labelOverlap":false,"values":[120,140,160,180,200,220,240,260]}}}}
 ],
 "resolve":{"scale":{"y":"independent"}}
},
{"width":508,"height":336,
 "encoding":{"x":{"field":"i","type":"quantitative","title":null,"scale":{"domain":[-0.5,50.5],"nice":false,"zero":false},"axis":{"tickCount":60,"values":[-0.5,0.5,1.5,2.5,3.5,4.5,5.5,6.5,7.5,8.5,9.5,10.5,11.5,12.5,13.5,14.5,15.5,16.5,17.5,18.5,19.5,20.5,21.5,22.5,23.5,24.5,25.5,26.5,27.5,28.5,29.5,30.5,31.5,32.5,33.5,34.5,35.5,36.5,37.5,38.5,39.5,40.5,41.5,42.5,43.5,44.5,45.5,46.5,47.5,48.5,49.5,50.5],"labelExpr":"(datum.value + 0.5) % 5 == 0 ? ['авг.14','янв.15','июн.15','ноя.15','апр.16','сен.16','фев.17','июл.17','дек.17','май.18','окт.18'][(datum.value + 0.5) / 5] : ''","labelAngle":-45,"labelOffset":5,"labelOverlap":false,"labelFlush":false,"labelBound":false,"grid":false}}},
 "layer":[
  {"mark":{"type":"line","color":"#C3C3C3"},"encoding":{"y":{"field":"mach","type":"quantitative","title":null,"scale":{"domain":[110,220],"nice":false,"zero":false},"axis":{"orient":"left","grid":true,"tickCount":30,"labelOverlap":false,"values":[110,130,150,170,190,210]}}}},
  {"mark":{"type":"line","color":"#B7722C"},"encoding":{"y":{"field":"elec","type":"quantitative","title":null}}},
  {"mark":{"type":"line","color":"#3D9BE0"},"encoding":{"y":{"field":"comp","type":"quantitative","title":null}}},
  {"transform":[{"filter":"datum.i == 0"}],"mark":{"type":"text","align":"left","baseline":"middle","lineHeight":24},"encoding":{"x":{"datum":1.07,"type":"quantitative","title":null},"y":{"datum":216.3,"type":"quantitative","title":null},"text":{"value":["Компьютеры, электронные и оптические","изделия"]}}},
  {"transform":[{"filter":"datum.i == 0"}],"mark":{"type":"text","align":"left","baseline":"middle","lineHeight":24},"encoding":{"x":{"datum":12.74,"type":"quantitative","title":null},"y":{"datum":167.8,"type":"quantitative","title":null},"text":{"value":["Машины и","оборудование"]}}},
  {"transform":[{"filter":"datum.i == 0"}],"mark":{"type":"text","align":"left","baseline":"middle","lineHeight":24},"encoding":{"x":{"datum":31.9,"type":"quantitative","title":null},"y":{"datum":127.4,"type":"quantitative","title":null},"text":{"value":["Электрическое","оборудование"]}}}
 ]
},
{"width":478,"height":336,
 "encoding":{"x":{"field":"i","type":"quantitative","title":null,"scale":{"domain":[-0.5,50.5],"nice":false,"zero":false},"axis":{"tickCount":60,"values":[-0.5,0.5,1.5,2.5,3.5,4.5,5.5,6.5,7.5,8.5,9.5,10.5,11.5,12.5,13.5,14.5,15.5,16.5,17.5,18.5,19.5,20.5,21.5,22.5,23.5,24.5,25.5,26.5,27.5,28.5,29.5,30.5,31.5,32.5,33.5,34.5,35.5,36.5,37.5,38.5,39.5,40.5,41.5,42.5,43.5,44.5,45.5,46.5,47.5,48.5,49.5,50.5],"labelExpr":"(datum.value + 0.5) % 5 == 0 ? ['авг.14','янв.15','июн.15','ноя.15','апр.16','сен.16','фев.17','июл.17','дек.17','май.18','окт.18'][(datum.value + 0.5) / 5] : ''","labelAngle":-45,"labelOffset":5,"labelOverlap":false,"labelFlush":false,"labelBound":false,"grid":false}}},
 "layer":[
  {"layer":[
   {"mark":{"type":"line","color":"#3D9BE0"},"encoding":{"y":{"field":"auto","type":"quantitative","title":null,"scale":{"domain":[50,180],"nice":false,"zero":false},"axis":{"orient":"left","grid":true,"tickCount":30,"labelOverlap":false,"values":[50,60,70,80,90,100,110,120,130,140,150,160,170,180]}}}},
   {"transform":[{"filter":"datum.i == 0"}],"mark":{"type":"text","align":"left","baseline":"middle","lineHeight":24},"encoding":{"x":{"datum":10.3,"type":"quantitative","title":null},"y":{"datum":173.5,"type":"quantitative","title":null},"text":{"value":["Автотранспортные средства,","прицепы и полуприцепы"]}}},
   {"transform":[{"filter":"datum.i == 0"}],"mark":{"type":"text","align":"left","baseline":"middle","lineHeight":25},"encoding":{"x":{"datum":30.1,"type":"quantitative","title":null},"y":{"datum":79.7,"type":"quantitative","title":null},"text":{"value":["Прочие","транспортные","средства (пр. шк.)"]}}},
   {"transform":[{"filter":"datum.i == 0"}],"mark":{"type":"rule","color":"#7B86C6","strokeWidth":1.5},"encoding":{"x":{"datum":42.3,"type":"quantitative","title":null},"y":{"datum":171.4,"type":"quantitative","title":null},"x2":{"datum":47.8},"y2":{"datum":161}}},
   {"transform":[{"filter":"datum.i == 0"}],"mark":{"type":"point","shape":"M-1,-0.6L0,0L-1,0.6","filled":false,"color":"#7B86C6","strokeWidth":1.5,"size":450,"angle":27,"opacity":1},"encoding":{"x":{"datum":47.8,"type":"quantitative","title":null},"y":{"datum":161,"type":"quantitative","title":null}}},
   {"transform":[{"filter":"datum.i == 0"}],"mark":{"type":"rule","color":"#7B86C6","strokeWidth":1.5},"encoding":{"x":{"datum":29.05,"type":"quantitative","title":null},"y":{"datum":66.1,"type":"quantitative","title":null},"x2":{"datum":22.5},"y2":{"datum":72.6}}},
   {"transform":[{"filter":"datum.i == 0"}],"mark":{"type":"point","shape":"M-1,-0.6L0,0L-1,0.6","filled":false,"color":"#7B86C6","strokeWidth":1.5,"size":450,"angle":195,"opacity":1},"encoding":{"x":{"datum":22.5,"type":"quantitative","title":null},"y":{"datum":72.6,"type":"quantitative","title":null}}}
  ]},
  {"mark":{"type":"line","color":"#B7722C"},"encoding":{"y":{"field":"othtr","type":"quantitative","title":null,"scale":{"domain":[190,390],"nice":false,"zero":false},"axis":{"orient":"right","grid":false,"tickCount":30,"labelOverlap":false,"values":[190,215,240,265,290,315,340,365,390]}}}}
 ],
 "resolve":{"scale":{"y":"independent"}}
}
],
"config":{
 "font":"Liberation Sans",
 "view":{"stroke":null},
 "axis":{"domainColor":"#8C8C8C","domainWidth":1.5,"tickColor":"#8C8C8C","tickWidth":1.5,"tickSize":6,"labelFont":"Liberation Sans","labelFontSize":21,"labelColor":"#111111","gridColor":"#EBEBEB","gridWidth":1,"labelPadding":11,"labelOverlap":false},
 "axisX":{"labelFontSize":20,"labelPadding":4},
 "line":{"strokeWidth":3.5,"strokeJoin":"round","strokeCap":"round"},
 "text":{"font":"Liberation Sans","fontSize":21.5,"color":"#111111"}
}
}
